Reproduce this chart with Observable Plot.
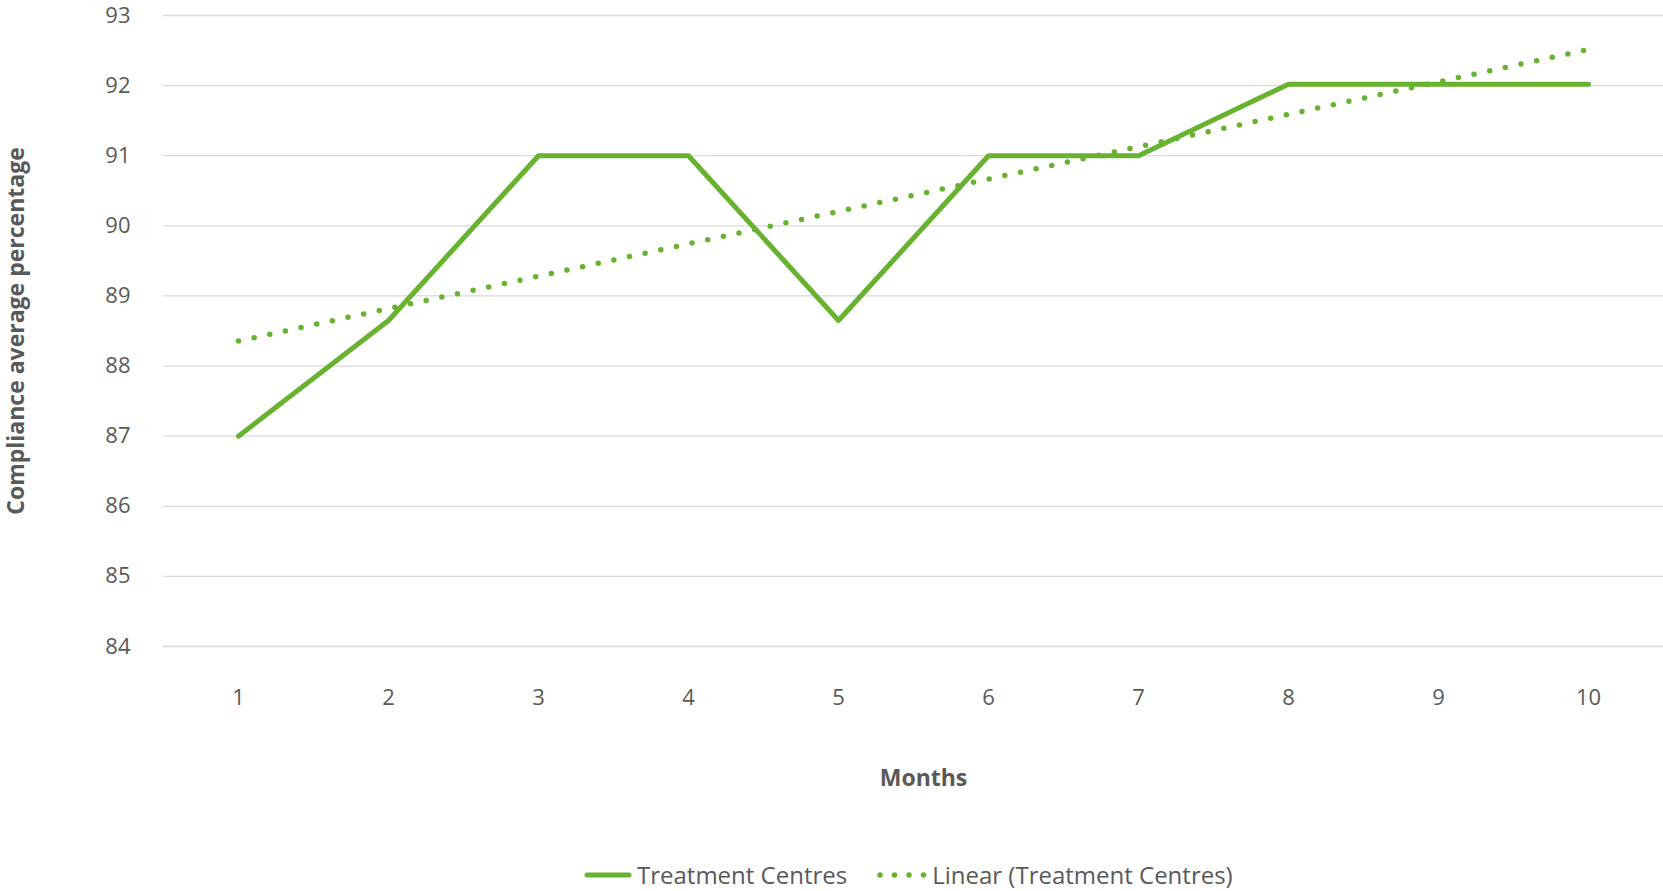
<!DOCTYPE html>
<html>
<head>
<meta charset="utf-8">
<script src="https://cdn.jsdelivr.net/npm/d3@7"></script>
<script src="https://cdn.jsdelivr.net/npm/@observablehq/plot@0.6"></script>
<style>
  html, body { margin: 0; padding: 0; background: #fff; }
  body { width: 1663px; height: 891px; overflow: hidden; font-family: "Open Sans", sans-serif; }
  #legend { display: flex; align-items: center; height: 34px; padding-left: 584px; font-size: 24px; line-height: 30px; color: #595959; white-space: nowrap; }
  #legend .item { display: flex; align-items: center; margin-right: 30px; }
  #legend svg { margin-right: 5px; }
</style>
</head>
<body>
<div id="chart"></div>
<div id="legend"></div>
<script>
const months = [1, 2, 3, 4, 5, 6, 7, 8, 9, 10];
const compliance = [87, 88.65, 91, 91, 88.65, 91, 91, 92.02, 92.02, 92.02];
const yTicks = [84, 85, 86, 87, 88, 89, 90, 91, 92, 93];
const seriesName = "Treatment Centres";
const trendName = "Linear (Treatment Centres)";
const xLabel = "Months";
const yLabel = "Compliance average percentage";

const green = "#67b22f";
const textColor = "#595959";

const data = months.map((m, i) => ({month: m, value: compliance[i]}));

const chart = Plot.plot({
  width: 1663,
  height: 858,
  marginTop: 15,
  marginBottom: 212,
  marginLeft: 163,
  marginRight: 0,
  style: {fontFamily: "Open Sans", fontSize: "22px", color: textColor, background: "#fff"},
  x: {domain: [0.5, 10.5], ticks: months, tickSize: 0, tickPadding: 43, tickFormat: d => String(d), label: null},
  y: {domain: [84, 93], ticks: yTicks, tickSize: 0, tickPadding: 33, label: null},
  marks: [
    Plot.gridY(yTicks, {stroke: "#d9d9d9", strokeOpacity: 1, strokeWidth: 1.3}),
    Plot.axisX({ticks: months, tickSize: 0, tickPadding: 43, fill: textColor, fontSize: 22, label: null}),
    Plot.axisY({ticks: yTicks, tickSize: 0, tickPadding: 33, fill: textColor, fontSize: 22, label: null}),
    Plot.linearRegressionY(data, {x: "month", y: "value", ci: 0, stroke: green, strokeWidth: 5.5, strokeDasharray: "0 16", strokeLinecap: "round"}),
    Plot.line(data, {x: "month", y: "value", stroke: green, strokeWidth: 5, strokeLinecap: "round", strokeLinejoin: "round"}),
    Plot.text([xLabel], {frameAnchor: "bottom", dy: 123, dx: 10, lineAnchor: "top", fontWeight: "bold", fontSize: 23, fill: textColor}),
    Plot.text([yLabel], {frameAnchor: "left", dx: -147, dy: 0, rotate: -90, textAnchor: "middle", lineAnchor: "middle", fontWeight: "bold", fontSize: 23, fill: textColor})
  ]
});
document.getElementById("chart").appendChild(chart);

const legend = document.getElementById("legend");
legend.innerHTML = `
  <span class="item"><svg width="48" height="10"><line x1="3" y1="5" x2="45" y2="5" stroke="${green}" stroke-width="5" stroke-linecap="round"/></svg>${seriesName}</span>
  <span class="item"><svg width="50" height="10"><line x1="3" y1="5" x2="47" y2="5" stroke="${green}" stroke-width="5.5" stroke-dasharray="0 14.5" stroke-linecap="round"/></svg>${trendName}</span>
`;
</script>
</body>
</html>
